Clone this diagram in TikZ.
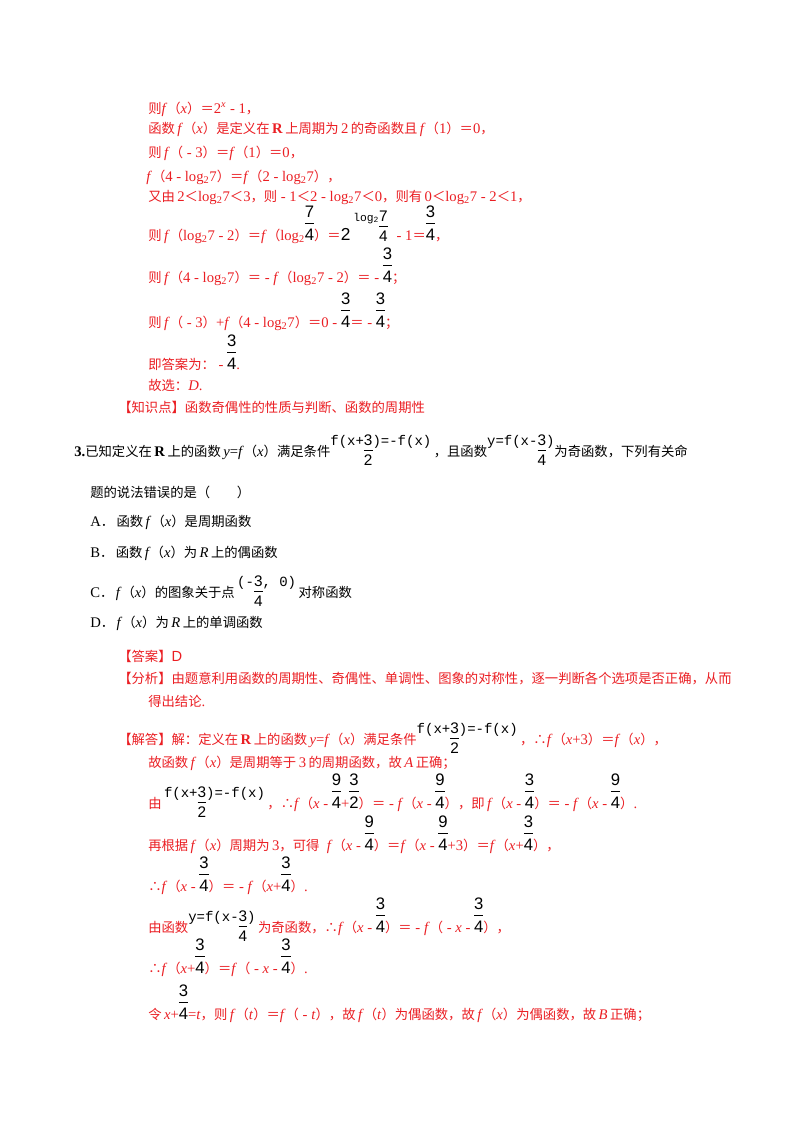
\documentclass[tikz,border=0pt]{standalone}
\usepackage{fontspec}
\setmainfont{Liberation Serif}
\setsansfont{Liberation Sans}
\setmonofont{Liberation Mono}
\newfontfamily\cjk{Noto Sans CJK SC}
\newcommand\zh[1]{{\cjk\fontsize{10}{12}\selectfont #1}}
\definecolor{rd}{RGB}{235,30,35}
\newcommand\fr[2]{{\color{black}\sffamily\fontsize{12.5}{12.5}\selectfont\renewcommand\arraystretch{1.1}\begin{tabular}[b]{@{}c@{}}#1\\\hline\rule{0pt}{12pt}#2\end{tabular}}}
\newcommand\tf[2]{{\sffamily\fontsize{11.5}{11.5}\selectfont\renewcommand\arraystretch{1.05}\begin{tabular}[t]{@{}c@{}}#1\\\hline\rule{0pt}{11pt}#2\end{tabular}}}
\newcommand\imgA{\raisebox{8pt}{\color{black}\ttfamily\fontsize{10.5}{10.5}\selectfont f(x+\tf{3}{2})=-f(x)}}
\newcommand\imgB{\raisebox{8pt}{\color{black}\ttfamily\fontsize{10.5}{10.5}\selectfont y=f(x-\tf{3}{4})}}
\newcommand\imgC{\raisebox{8pt}{\color{black}\ttfamily\fontsize{10.5}{10.5}\selectfont (-\tf{3}{4}, 0)}}
\newcommand\powA{{\color{black}\sffamily\fontsize{13}{13}\selectfont 2\,\raisebox{14pt}{\ttfamily\fontsize{8.5}{8.5}\selectfont log\textsubscript{2}\tf{7}{4}}\hspace{4pt}}}
\begin{document}
\begin{tikzpicture}[x=0.75pt,y=-0.75pt,
  ln/.style={anchor=base west,inner sep=0pt,font=\fontsize{11}{12}\selectfont,text=rd},
  lb/.style={ln,text=black}]
\useasboundingbox (0,0) rectangle (800,1132);
\fill[white] (0,0) rectangle (800,1132);
\node[ln] (l1) at (148,113) {\zh{则}\textit{f}\zh{（}\textit{x}\zh{）＝}2\textsuperscript{\textit{x}} - 1\zh{，}};
\node[ln] (l2) at (148,133) {\zh{函数}\,\textit{f}\zh{（}\textit{x}\zh{）是定义在}\,\textbf{R}\,\zh{上周期为}\,2\,\zh{的奇函数且}\,\textit{f}\zh{（}1\zh{）＝}0\zh{，}};
\node[ln] (l3) at (148,157) {\zh{则}\,\textit{f}\zh{（} - 3\zh{）＝}\textit{f}\zh{（}1\zh{）＝}0\zh{，}};
\node[ln] (l4) at (146,181) {\textit{f}\zh{（}4 - log\textsubscript{2}7\zh{）＝}\textit{f}\zh{（}2 - log\textsubscript{2}7\zh{），}};
\node[ln] (l5) at (148,201) {\zh{又由}\,2\zh{＜}log\textsubscript{2}7\zh{＜}3\zh{，则} - 1\zh{＜}2 - log\textsubscript{2}7\zh{＜}0\zh{，则有}\,0\zh{＜}log\textsubscript{2}7 - 2\zh{＜}1\zh{，}};
\node[ln] (l6) at (148,240) {\zh{则}\,\textit{f}\zh{（}log\textsubscript{2}7 - 2\zh{）＝}\textit{f}\zh{（}log\textsubscript{2}\fr{7}{4}\zh{）＝}\powA{} - 1\zh{＝}\fr{3}{4}\zh{，}};
\node[ln] (l7) at (148,282) {\zh{则}\,\textit{f}\zh{（}4 - log\textsubscript{2}7\zh{）＝} - \textit{f}\zh{（}log\textsubscript{2}7 - 2\zh{）＝} - \fr{3}{4}\zh{；}};
\node[ln] (l8) at (148,327) {\zh{则}\,\textit{f}\zh{（} - 3\zh{）}+\textit{f}\zh{（}4 - log\textsubscript{2}7\zh{）＝}0 - \fr{3}{4}\zh{＝} - \fr{3}{4}\zh{；}};
\node[ln] (l9) at (148,369) {\zh{即答案为：} - \fr{3}{4}.};
\node[ln] (l10) at (148,390) {\zh{故选：}\textit{D}.};
\node[ln] (l11) at (118,412) {\zh{【知识点】函数奇偶性的性质与判断、函数的周期性}};
\node[lb] (q) at (74,456) {\textbf{3.}\zh{已知定义在}\,\textbf{R}\,\zh{上的函数}\,\textit{y}=\textit{f}\zh{（}\textit{x}\zh{）满足条件}\imgA\,\zh{，且函数}\imgB\zh{为奇函数，下列有关命}};
\node[lb] (q2) at (90,497) {\zh{题的说法错误的是（　　）}};
\node[lb] (a) at (90,526) {A\zh{．}\,\zh{函数}\,\textit{f}\zh{（}\textit{x}\zh{）是周期函数}};
\node[lb] (b) at (90,557) {B\zh{．}\,\zh{函数}\,\textit{f}\zh{（}\textit{x}\zh{）为}\,\textit{R}\,\zh{上的偶函数}};
\node[lb] (c) at (90,597) {C\zh{．}\,\textit{f}\zh{（}\textit{x}\zh{）的图象关于点}\,\imgC\,\zh{对称函数}};
\node[lb] (d) at (90,627) {D\zh{．}\,\textit{f}\zh{（}\textit{x}\zh{）为}\,\textit{R}\,\zh{上的单调函数}};
\node[ln] (ans) at (118,661) {\zh{【答案】}\textsf{D}};
\node[ln] (an1) at (118,683) {\zh{【分析】由题意利用函数的周期性、奇偶性、单调性、图象的对称性，逐一判断各个选项是否正确，从而}};
\node[ln] (an2) at (148,706) {\zh{得出结论}.};
\node[ln] (s1) at (118,744) {\zh{【解答】解：定义在}\,\textbf{R}\,\zh{上的函数}\,\textit{y}=\textit{f}\zh{（}\textit{x}\zh{）满足条件}\imgA\,\zh{，∴}\textit{f}\zh{（}\textit{x}+3\zh{）＝}\textit{f}\zh{（}\textit{x}\zh{），}};
\node[ln] (s2) at (148,767) {\zh{故函数}\,\textit{f}\zh{（}\textit{x}\zh{）是周期等于}\,3\,\zh{的周期函数，故}\,\textit{A}\,\zh{正确；}};
\node[ln] (s3) at (148,808) {\zh{由}\,\imgA\,\zh{，∴}\textit{f}\zh{（}\textit{x} - \fr{9}{4}+\fr{3}{2}\zh{）＝} - \textit{f}\zh{（}\textit{x} - \fr{9}{4}\zh{），即}\,\textit{f}\zh{（}\textit{x} - \fr{3}{4}\zh{）＝} - \textit{f}\zh{（}\textit{x} - \fr{9}{4}\zh{）}.};
\node[ln] (s4) at (148,850) {\zh{再根据}\,\textit{f}\zh{（}\textit{x}\zh{）周期为}\,3\zh{，可得}\enspace\textit{f}\zh{（}\textit{x} - \fr{9}{4}\zh{）＝}\textit{f}\zh{（}\textit{x} - \fr{9}{4}+3\zh{）＝}\textit{f}\zh{（}\textit{x}+\fr{3}{4}\zh{），}};
\node[ln] (s5) at (148,891) {\zh{∴}\textit{f}\zh{（}\textit{x} - \fr{3}{4}\zh{）＝} - \textit{f}\zh{（}\textit{x}+\fr{3}{4}\zh{）}.};
\node[ln] (s6) at (148,932) {\zh{由函数}\imgB\,\zh{为奇函数，∴}\textit{f}\zh{（}\textit{x} - \fr{3}{4}\zh{）＝} - \textit{f}\zh{（} - \textit{x} - \fr{3}{4}\zh{），}};
\node[ln] (s7) at (148,973) {\zh{∴}\textit{f}\zh{（}\textit{x}+\fr{3}{4}\zh{）＝}\textit{f}\zh{（} - \textit{x} - \fr{3}{4}\zh{）}.};
\node[ln] (s8) at (148,1019) {\zh{令}\,\textit{x}+\fr{3}{4}=\textit{t}\zh{，则}\,\textit{f}\zh{（}\textit{t}\zh{）＝}\textit{f}\zh{（} - \textit{t}\zh{），故}\,\textit{f}\zh{（}\textit{t}\zh{）为偶函数，故}\,\textit{f}\zh{（}\textit{x}\zh{）为偶函数，故}\,\textit{B}\,\zh{正确；}};
\end{tikzpicture}
\end{document}
